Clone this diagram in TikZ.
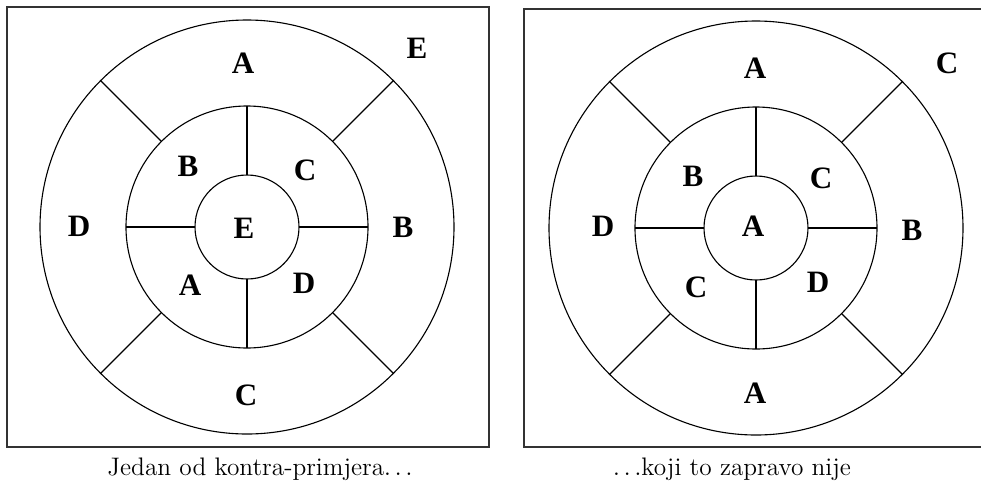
\documentclass[tikz,border=0pt]{standalone}
\usepackage{fontspec}
\newfontfamily\lblfont{Liberation Serif}
\tikzset{
  ring/.style={draw=black, line width=0.5pt},
  spoke/.style={draw=black, line width=0.5pt},
  frm/.style={draw=black!80, line width=0.9pt},
  lbl/.style={font=\lblfont\bfseries\fontsize{14}{15}\selectfont, inner sep=0pt},
  captxt/.style={font=\fontsize{11.4}{13}\selectfont, inner sep=0pt, anchor=base},
}

\begin{document}
\begin{tikzpicture}[x=0.45pt,y=-0.45pt]
    \useasboundingbox (0,0) rectangle (981,482);
    % left panel
    \draw[frm] (7,7) rectangle (489,447);
    \coordinate (lc) at (247,227);
    \draw[ring] (lc) circle (207);
    \draw[ring] (lc) circle (121);
    \draw[ring] (lc) circle (52);
    \foreach \a in {0,90,180,270} \draw[spoke] ([shift={(\a:52)}]lc) -- ([shift={(\a:121)}]lc);
    \foreach \a in {45,135,225,315} \draw[spoke] ([shift={(\a:121)}]lc) -- ([shift={(\a:207)}]lc);
    \node[lbl](lA) at (243,63){A};
    \node[lbl](lEc) at (417,48){E};
    \node[lbl](lD) at (79,226){D};
    \node[lbl](lB) at (403,227){B};
    \node[lbl](lC) at (246,395){C};
    \node[lbl](lmB) at (188,166){B};
    \node[lbl](lmC) at (305,170){C};
    \node[lbl](lmA) at (190,285){A};
    \node[lbl](lmD) at (304,283){D};
    \node[lbl](lE) at (244,228){E};
    \node[captxt](lcap) at (260,475){Jedan od kontra-primjera$\ldots$};
    % right panel
    \draw[frm] (983,9) -- (524,9) -- (524,447) -- (983,447);
    \coordinate (rc) at (756,228);
    \draw[ring] (rc) circle (207);
    \draw[ring] (rc) circle (121);
    \draw[ring] (rc) circle (52);
    \foreach \a in {0,90,180,270} \draw[spoke] ([shift={(\a:52)}]rc) -- ([shift={(\a:121)}]rc);
    \foreach \a in {45,135,225,315} \draw[spoke] ([shift={(\a:121)}]rc) -- ([shift={(\a:207)}]rc);
    \node[lbl](rA) at (755,68){A};
    \node[lbl](rCc) at (947,63){C};
    \node[lbl](rD) at (603,226){D};
    \node[lbl](rB) at (912,230){B};
    \node[lbl](rAb) at (755,393){A};
    \node[lbl](rmB) at (693,176){B};
    \node[lbl](rmC) at (821,178){C};
    \node[lbl](rmCb) at (696,287){C};
    \node[lbl](rmD) at (818,282){D};
    \node[lbl](rAc) at (753,226){A};
    \node[captxt](rcap) at (732,475){$\ldots$koji to zapravo nije};
\end{tikzpicture}
\end{document}
